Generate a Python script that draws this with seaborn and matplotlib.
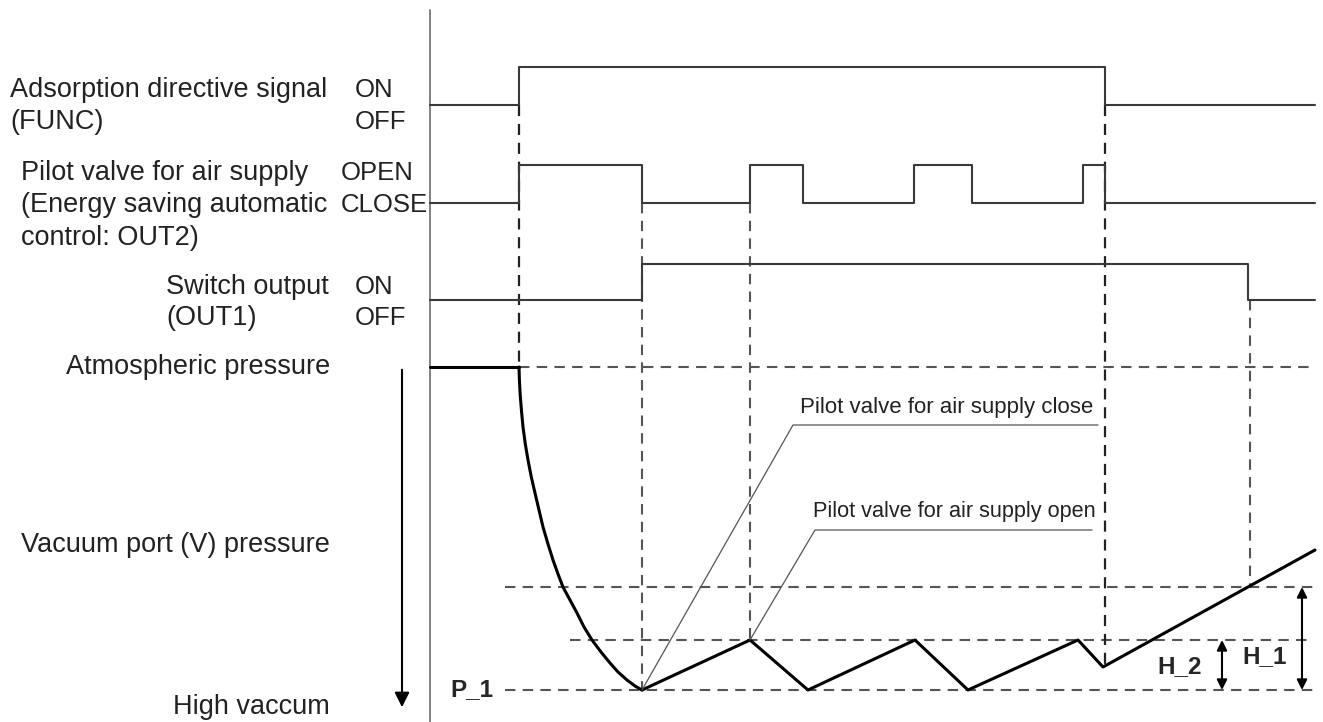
import numpy as np
import pandas as pd
import matplotlib
matplotlib.use('Agg')
import matplotlib.pyplot as plt
import seaborn as sns

sns.set_style('white')
plt.rcParams['font.family'] = ['Liberation Sans', 'DejaVu Sans']

# time axis (picture units, left to right)
t_start = 430
t_end = 1315

# digital signals: switching times and (low, high) levels
func_edges = [519, 1105]
func_levels = (105, 67)
out2_edges = [519, 642, 750, 803, 914, 972, 1083, 1105]
out2_levels = (203, 165)
out1_edges = [642, 1248]
out1_levels = (300, 264)

# vacuum pressure (down = higher vacuum)
p_atm = 367
p_1 = 690
h2_level = 640
h1_level = 587
hold_x = [430, 519]
hold_y = [367, 367]
drop_x = [519, 519.4, 520.2, 521.5, 523, 525.3, 528, 531.3, 535, 539, 543, 548, 553,
          558, 563, 570, 577, 584, 592, 601, 610, 618, 627, 635, 642]
drop_y = [367, 380, 395, 411, 427, 444, 460, 477, 493, 510, 527, 544, 560,
          574, 587, 600, 613, 627, 640, 652, 663, 672, 680, 686, 690]
saw_x = [642, 750, 808, 915, 968, 1078, 1103, 1315]
saw_y = [690, 640, 690, 640, 690, 640, 667, 550]

# left-hand labels
signal_labels = [
    ('Adsorption directive signal', 10, 90),
    ('(FUNC)', 10, 122),
    ('Pilot valve for air supply', 21, 173),
    ('(Energy saving automatic', 21, 205),
    ('control: OUT2)', 21, 238),
    ('Switch output', 166, 287),
    ('(OUT1)', 166, 318),
]
state_labels = [
    ('ON', 355, 90), ('OFF', 355, 122),
    ('OPEN', 341, 173), ('CLOSE', 341, 205),
    ('ON', 355, 287), ('OFF', 355, 318),
]
pressure_labels = [
    ('Atmospheric pressure', 330, 367),
    ('Vacuum port (V) pressure', 330, 545),
    ('High vaccum', 330, 707),
]


def step_points(edges, levels):
    low, high = levels
    xs, ys = [t_start], [low]
    cur, other = low, high
    for e in edges:
        xs += [e, e]
        ys += [cur, other]
        cur, other = other, cur
    xs.append(t_end)
    ys.append(cur)
    return xs, ys


fig = plt.figure(figsize=(13.23, 7.22), dpi=100)
ax = fig.add_axes([0, 0, 1, 1])
ax.set_xlim(0, 1323)
ax.set_ylim(722, 0)
ax.axis('off')

dash = (0, (5, 3.5))
dcol = '#555555'

# time axis line
ax.plot([430, 430], [10, 722], color='#777777', lw=1.3)

# dashed guides
ax.hlines(p_atm, 519, 1312, colors=dcol, linestyles=dash, lw=1.5)
ax.hlines(h1_level, 505, 1315, colors=dcol, linestyles=dash, lw=1.5)
ax.hlines(h2_level, 570, 1310, colors=dcol, linestyles=dash, lw=1.5)
ax.hlines(p_1, 505, 1315, colors=dcol, linestyles=dash, lw=1.5)
ax.vlines(519, 105, 367, colors='#222222', linestyles=dash, lw=1.6)
ax.vlines(642, 203, 690, colors=dcol, linestyles=dash, lw=1.5)
ax.vlines(750, 203, 640, colors=dcol, linestyles=dash, lw=1.5)
ax.vlines(1105, 105, 667, colors='#222222', linestyles=dash, lw=1.6)
ax.vlines(1250, 300, 587, colors=dcol, linestyles=dash, lw=1.5)

# signal traces
for edges, levels in [(func_edges, func_levels), (out2_edges, out2_levels),
                      (out1_edges, out1_levels)]:
    xs, ys = step_points(edges, levels)
    sns.lineplot(x=xs, y=ys, sort=False, estimator=None, ax=ax,
                 color='#3a3a3a', linewidth=1.5)

# pressure trace
for xs, ys in [(hold_x, hold_y), (drop_x, drop_y), (saw_x, saw_y)]:
    sns.lineplot(x=xs, y=ys, sort=False, estimator=None, ax=ax,
                 color='black', linewidth=2.2)

# leader lines for notes
ax.plot([642, 793, 1098], [690, 425, 425], color='#555555', lw=0.9)
ax.plot([750, 815, 1092], [640, 530, 530], color='#555555', lw=0.9)
ax.text(800, 408, 'Pilot valve for air supply close', fontsize=16,
        va='center', color='#222222')
ax.text(813, 512, 'Pilot valve for air supply open', fontsize=15.6,
        va='center', color='#222222')

# vacuum direction arrow
ax.annotate('', xy=(402, 710), xytext=(402, 367),
            arrowprops=dict(arrowstyle='-|>', color='black', lw=1.5, mutation_scale=22))

# hysteresis arrows
ax.annotate('', xy=(1222, 690), xytext=(1222, 640),
            arrowprops=dict(arrowstyle='<|-|>', color='black', lw=1.5, mutation_scale=15,
                            shrinkA=0, shrinkB=0))
ax.annotate('', xy=(1302, 690), xytext=(1302, 587),
            arrowprops=dict(arrowstyle='<|-|>', color='black', lw=1.5, mutation_scale=15,
                            shrinkA=0, shrinkB=0))
ax.text(1157, 667, 'H_2', fontsize=17.5, fontweight='bold', va='center')
ax.text(1242, 657, 'H_1', fontsize=17.5, fontweight='bold', va='center')
ax.text(450, 690, 'P_1', fontsize=17.5, fontweight='bold', va='center')

for s, x, y in signal_labels:
    ax.text(x, y, s, fontsize=19.5, va='center', color='#222222')
for s, x, y in state_labels:
    ax.text(x, y, s, fontsize=18.5, va='center', color='#222222')
for s, x, y in pressure_labels:
    ax.text(x, y, s, fontsize=19.5, va='center', ha='right', color='#222222')

fig.savefig('out.png', dpi=100, facecolor='white')
